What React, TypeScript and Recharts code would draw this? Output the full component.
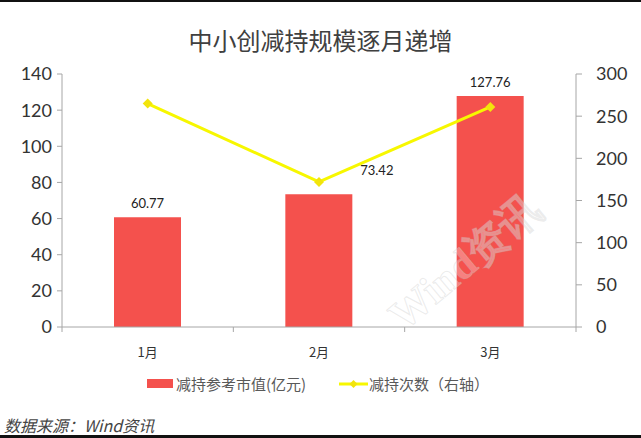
import React from 'react';
import { ComposedChart, Bar, Line, XAxis, YAxis, LabelList } from 'recharts';

const months = ['1月', '2月', '3月'];
const marketValue = [60.77, 73.42, 127.76];
const reduceCount = [265, 172, 261];
const leftTicks = [0, 20, 40, 60, 80, 100, 120, 140];
const rightTicks = [0, 50, 100, 150, 200, 250, 300];

const title = '中小创减持规模逐月递增';
const barName = '减持参考市值(亿元)';
const lineName = '减持次数（右轴）';
const source = '数据来源：Wind资讯';
const watermark = 'Wind资讯';

const data = months.map((m, i) => ({ month: m, value: marketValue[i], count: reduceCount[i] }));

const W = 641;
const H = 438;
const LEFT_W = 62;
const RIGHT_W = 65;
const BAND = (W - LEFT_W - RIGHT_W) / months.length;
const AXIS = '#a6a6a6';
const RED = '#f4514d';
const YELLOW = '#f7f700';
const NUM_FONT = 'Lato, "Noto Sans CJK SC", sans-serif';
const CJK_FONT = '"Noto Sans CJK SC", "Noto Sans", sans-serif';

// 2月 label sits off to the right of the bar in the original
const labelShift = [
  { dx: 0, dy: 0 },
  { dx: 58, dy: -10 },
  { dx: 0, dy: 0 },
];

function MonthTick(props: any) {
  const { x, y, payload, index } = props;
  const half = BAND / 2;
  return (
    <g>
      <line x1={x - half} x2={x - half} y1={y} y2={y + 5} stroke={AXIS} />
      {index === months.length - 1 && (
        <line x1={x + half} x2={x + half} y1={y} y2={y + 5} stroke={AXIS} />
      )}
      <text
        x={x}
        y={y + 24}
        textAnchor="middle"
        dominantBaseline="central"
        fontSize={13}
        fill="#333"
        fontFamily={CJK_FONT}
      >
        {payload.value}
      </text>
    </g>
  );
}

function BarValueLabel(props: any) {
  const { x, y, width, value, index } = props;
  const s = labelShift[index] || { dx: 0, dy: 0 };
  return (
    <text
      x={x + width / 2 + s.dx}
      y={y - 14 + s.dy}
      textAnchor="middle"
      dominantBaseline="central"
      fontSize={13}
      fill="#222"
      fontFamily={NUM_FONT}
    >
      {value}
    </text>
  );
}

function Diamond(props: any) {
  const { cx, cy } = props;
  if (cx == null || cy == null) return null;
  const r = 5;
  return (
    <path
      d={`M${cx},${cy - r}L${cx + r},${cy}L${cx},${cy + r}L${cx - r},${cy}Z`}
      fill="#f2e40c"
      stroke="none"
    />
  );
}

export default function App() {
  return (
    <div
      style={{
        position: 'absolute',
        left: 0,
        top: 0,
        width: W,
        height: H,
        background: '#fff',
        overflow: 'hidden',
      }}
    >
      <div style={{ position: 'absolute', left: 0, top: 0, width: W, height: 2, background: '#111' }} />
      <div
        style={{
          position: 'absolute',
          left: 0,
          top: 22,
          width: W,
          textAlign: 'center',
          fontFamily: CJK_FONT,
          fontSize: 24,
          lineHeight: '36px',
          color: '#404040',
        }}
      >
        {title}
      </div>

      <ComposedChart
        width={W}
        height={H}
        data={data}
        margin={{ top: 74, right: 0, bottom: 81, left: 0 }}
        style={{ position: 'absolute', left: 0, top: 0 }}
      >
        <XAxis
          dataKey="month"
          height={30}
          axisLine={{ stroke: AXIS }}
          tickLine={false}
          tickSize={0}
          tickMargin={0}
          tick={<MonthTick />}
          interval={0}
        />
        <YAxis
          yAxisId="left"
          width={LEFT_W}
          domain={[0, 140]}
          ticks={leftTicks}
          axisLine={{ stroke: AXIS }}
          tickLine={{ stroke: AXIS }}
          tickSize={5}
          tickMargin={5}
          tick={{ fontSize: 18, fill: '#333', fontFamily: NUM_FONT }}
        />
        <YAxis
          yAxisId="right"
          orientation="right"
          width={RIGHT_W}
          domain={[0, 300]}
          ticks={rightTicks}
          axisLine={{ stroke: AXIS }}
          tickLine={{ stroke: AXIS }}
          tickSize={6}
          tickMargin={14}
          tick={{ fontSize: 18, fill: '#333', fontFamily: NUM_FONT, textAnchor: 'start' }}
        />
        <Bar
          yAxisId="left"
          dataKey="value"
          name={barName}
          fill={RED}
          barSize={67}
          isAnimationActive={false}
        >
          <LabelList dataKey="value" content={<BarValueLabel />} />
        </Bar>
        <Line
          yAxisId="right"
          dataKey="count"
          name={lineName}
          type="linear"
          stroke={YELLOW}
          strokeWidth={3}
          dot={<Diamond />}
          activeDot={false}
          isAnimationActive={false}
        />
      </ComposedChart>

      <div
        style={{
          position: 'absolute',
          left: 345,
          top: 237,
          width: 240,
          height: 50,
          lineHeight: '50px',
          textAlign: 'center',
          transform: 'rotate(-40deg)',
          fontFamily: '"Liberation Serif", serif',
          fontWeight: 'bold',
          fontSize: 42,
          color: 'rgba(255,255,255,0.3)',
          WebkitTextStroke: '1px rgba(190,190,190,0.3)',
          pointerEvents: 'none',
        }}
      >
        {watermark}
      </div>

      <div
        style={{
          position: 'absolute',
          left: 0,
          top: 374,
          width: W,
          height: 20,
          fontFamily: CJK_FONT,
          fontSize: 15,
          color: '#595959',
        }}
      >
        <div style={{ position: 'absolute', left: 147, top: 5, width: 26, height: 9, background: RED }} />
        <div style={{ position: 'absolute', left: 176, top: 0, lineHeight: '20px', whiteSpace: 'nowrap' }}>
          {barName}
        </div>
        <svg style={{ position: 'absolute', left: 339, top: 0 }} width={29} height={20}>
          <line x1={0} x2={29} y1={10} y2={10} stroke={YELLOW} strokeWidth={3} />
          <path d="M14.5,6L18.5,10L14.5,14L10.5,10Z" fill="#f2e40c" />
        </svg>
        <div style={{ position: 'absolute', left: 369, top: 0, lineHeight: '20px', whiteSpace: 'nowrap' }}>
          {lineName}
        </div>
      </div>

      <div
        style={{
          position: 'absolute',
          left: 4,
          top: 415,
          fontFamily: CJK_FONT,
          fontStyle: 'italic',
          fontSize: 16,
          lineHeight: '20px',
          color: '#444',
          whiteSpace: 'nowrap',
        }}
      >
        {source}
      </div>
      <div style={{ position: 'absolute', left: 0, top: 435, width: W, height: 3, background: '#111' }} />
    </div>
  );
}
